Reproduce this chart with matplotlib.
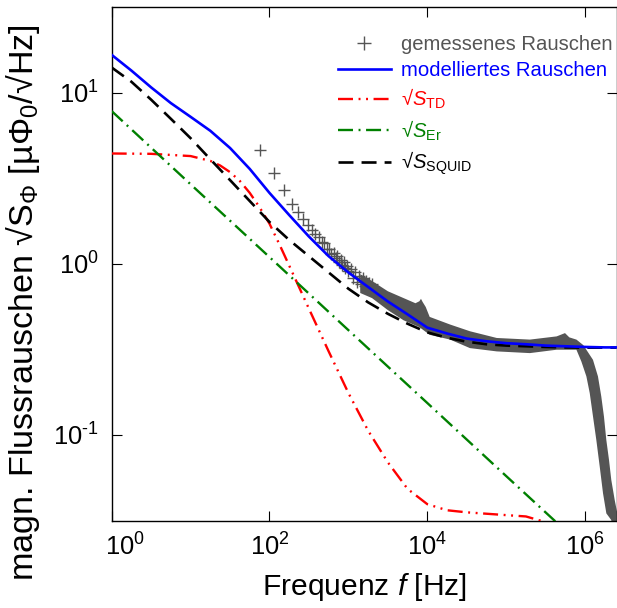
import matplotlib
matplotlib.use("Agg")
import matplotlib.pyplot as plt
from matplotlib.ticker import NullLocator, FixedFormatter
from matplotlib.transforms import ScaledTranslation

plt.rcParams.update({
    "font.family": ["Liberation Sans", "DejaVu Sans"],
    "mathtext.fontset": "custom",
    "mathtext.rm": "Liberation Sans",
    "mathtext.it": "Liberation Sans:italic",
    "mathtext.bf": "Liberation Sans:bold",
    "axes.unicode_minus": False,
    "lines.scale_dashes": False,
})

# ---- model curves (flux noise in muPhi0/sqrt(Hz)) ----
f_model = [1, 1.778, 3.162, 5.623, 10, 17.78, 31.62, 56.23, 100, 177.8, 316.2,
           562.3, 1000, 1778, 3162, 5623, 1e4, 1.778e4, 3.162e4, 5.623e4, 1e5,
           1.778e5, 3.162e5, 5.623e5, 1e6, 1.778e6, 2.5e6]
noise_model = [16.67, 13.49, 10.76, 8.71, 7.24, 6.00, 4.76, 3.59, 2.60, 1.93,
               1.445, 1.109, 0.891, 0.733, 0.603, 0.507, 0.424, 0.392, 0.366,
               0.353, 0.344, 0.339, 0.333, 0.330, 0.327, 0.325, 0.325]
noise_squid = [14.06, 11.61, 9.12, 7.05, 5.43, 4.09, 3.09, 2.33, 1.758, 1.380,
               1.109, 0.891, 0.716, 0.596, 0.511, 0.447, 0.398, 0.370, 0.351,
               0.339, 0.333, 0.330, 0.327, 0.325, 0.324, 0.324, 0.324]

f_er = [1, 10, 100, 1000, 1e4, 1e5, 6.3e5]
noise_er = [7.82, 2.92, 1.096, 0.410, 0.1538, 0.0575, 0.0263]

f_td = [1, 3.162, 10, 17.78, 23.71, 31.62, 42.17, 56.23, 74.99, 100, 133.4,
        177.8, 316.2, 562.3, 1000, 1778, 3162, 5623, 1e4, 1.778e4, 3.162e4,
        1e5, 1.778e5, 2.69e5, 3.98e5]
noise_td = [4.42, 4.40, 4.27, 4.00, 3.76, 3.44, 3.05, 2.60, 2.14, 1.718, 1.303,
            0.977, 0.547, 0.308, 0.176, 0.106, 0.0692, 0.0484, 0.0394, 0.0363,
            0.0353, 0.0340, 0.0334, 0.0316, 0.0282]

# ---- measured spectrum: low-frequency FFT bins as single points ----
f_meas = [76.3, 114.4, 152.6, 190.7, 228.9, 267.0, 305.2, 343.3, 381.5, 419.6,
          457.8, 495.9, 534.1, 572.2, 610.4, 648.5, 686.7, 724.8, 763.0, 801.1,
          839.3, 877.4, 915.6, 953.7, 991.9, 1068, 1144.5, 1220.8, 1297.1,
          1373.4, 1449.7, 1526, 1602.3, 1678.6, 1754.9, 1831.2, 1907.5, 1983.8]
noise_meas = [4.62, 3.41, 2.72, 2.24, 2.00, 1.83, 1.69, 1.585, 1.496, 1.439,
              1.349, 1.330, 1.230, 1.230, 1.140, 1.160, 1.080, 1.105, 1.030,
              1.060, 0.985, 1.020, 0.940, 0.975, 0.905, 0.933, 0.822, 0.891,
              0.785, 0.851, 0.759, 0.822, 0.741, 0.794, 0.716, 0.776, 0.700,
              0.759]

# dense part of the measured spectrum: upper and lower edge of the scatter
band_top_f = [1413, 1995, 3162, 5012, 7079, 7943, 8318, 8710, 9550, 10720,
              19500, 34670, 75860, 199500, 436500, 556000, 631000, 776200,
              950000, 1258000, 1455000, 1603000, 1734000, 1857000, 2009000,
              2147000, 2371000, 2611000, 2870000]
band_top_v = [0.871, 0.794, 0.692, 0.631, 0.589, 0.605, 0.625, 0.600, 0.560,
              0.490, 0.442, 0.404, 0.369, 0.361, 0.377, 0.394, 0.372, 0.361,
              0.335, 0.275, 0.220, 0.168, 0.128, 0.0935, 0.0714, 0.0546,
              0.0417, 0.0333, 0.0251]
band_bot_f = [1413, 1995, 3162, 5012, 7943, 10720, 19500, 34670, 75860,
              199500, 436500, 776200, 896000, 1038000, 1144000, 1260000,
              1387000, 1532000, 1687000, 1859000, 2148000, 2213000]
band_bot_v = [0.676, 0.631, 0.537, 0.468, 0.427, 0.385, 0.361, 0.322, 0.308,
              0.301, 0.315, 0.315, 0.269, 0.220, 0.176, 0.128, 0.0935, 0.0653,
              0.0456, 0.0348, 0.0318, 0.0251]

y_tick_labels = [r"$10^{\text{-}1}$", r"$10^{0}$", r"$10^{1}$"]
x_tick_labels = [r"$10^{0}$", r"$10^{2}$", r"$10^{4}$", r"$10^{6}$"]

GRAY = "#555555"

fig = plt.figure(figsize=(6.17, 6.08), dpi=100)
ax = fig.add_axes([0.1810, 0.1439, 0.8182, 0.8441])
ax.set_xscale("log")
ax.set_yscale("log")

ax.fill(band_top_f + band_bot_f[::-1], band_top_v + band_bot_v[::-1],
        color=GRAY, lw=0, zorder=2)
h_meas, = ax.plot(f_meas, noise_meas, ls="none", marker="+", ms=9, mew=1.0,
                  color=GRAY, zorder=2, label="gemessenes Rauschen")

h_td, = ax.plot(f_td, noise_td, color="#ff0000", lw=1.7,
                dashes=(10.8, 4.0, 1.4, 4.0, 1.4, 4.0), zorder=3,
                label=r"√$S_{\mathrm{TD}}$")
h_er, = ax.plot(f_er, noise_er, color="#008000", lw=1.7,
                dashes=(10.8, 4.0, 1.4, 4.0), zorder=3,
                label=r"√$S_{\mathrm{Er}}$")
h_sq, = ax.plot(f_model, noise_squid, color="black", lw=1.9,
                dashes=(10.8, 5.8), zorder=4,
                label=r"√$S_{\mathrm{SQUID}}$")
h_mod, = ax.plot(f_model, noise_model, color="#0000ff", lw=1.9, zorder=5,
                 label="modelliertes Rauschen")

ax.set_xlim(1, 2.5e6)
ax.set_ylim(10 ** -1.5, 10 ** 1.5)
ax.set_xticks([1, 1e2, 1e4, 1e6])
ax.set_yticks([0.1, 1, 10])
ax.xaxis.set_major_formatter(FixedFormatter(x_tick_labels))
ax.yaxis.set_major_formatter(FixedFormatter(y_tick_labels))
ax.xaxis.set_minor_locator(NullLocator())
ax.yaxis.set_minor_locator(NullLocator())
ax.tick_params(which="both", direction="in", length=7.2, width=0.8,
               top=True, right=True, labelsize=18.4, pad=9)
for s in ax.spines.values():
    s.set_linewidth(1.0)

# keep the first x label clear of the left figure edge
lbl0 = ax.get_xticklabels()[0]
lbl0.set_transform(lbl0.get_transform() +
                   ScaledTranslation(13 / 100, 0, fig.dpi_scale_trans))

ax.set_xlabel("Frequenz $f$ [Hz]", fontsize=21.6, labelpad=8)
ax.set_ylabel(r"magn. Flussrauschen √$\mathrm{S}_{\Phi}$ [µΦ$_0$/√Hz]",
              fontsize=24.6)
ax.yaxis.set_label_coords(-0.138, 0.424)

leg = ax.legend(handles=[h_meas, h_mod, h_td, h_er, h_sq], loc="upper right",
                bbox_to_anchor=(1.0, 0.954), frameon=False, fontsize=14.6,
                handlelength=2.6, handletextpad=0.5, labelspacing=0.35,
                borderaxespad=0, borderpad=0.2, markerscale=1.1)
for txt, col in zip(leg.get_texts(), [GRAY, "#0000ff", "#ff0000", "#008000", "black"]):
    txt.set_color(col)

fig.savefig("out.png", dpi=100)
